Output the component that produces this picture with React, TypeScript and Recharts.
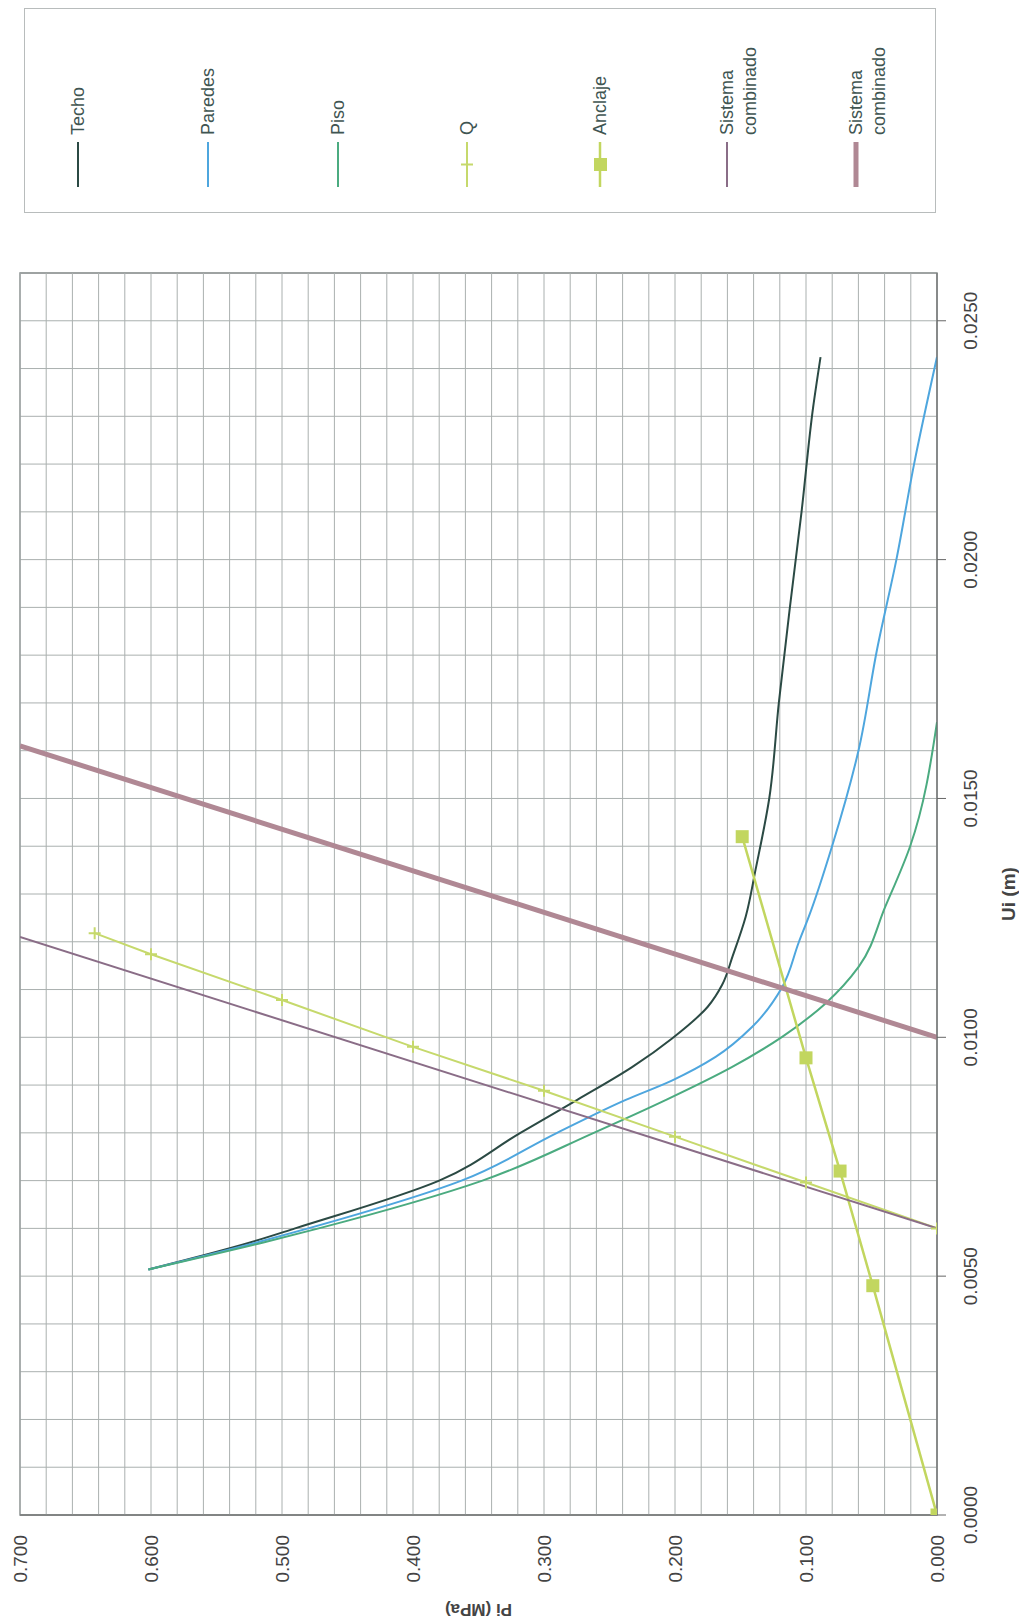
import React from 'react';
import { LineChart, Line, XAxis, YAxis, CartesianGrid, ReferenceArea, ReferenceLine } from 'recharts';

// Ui (m) on the x axis, Pi (MPa) on the y axis; the whole chart is turned 90° afterwards
const uiTicks = [0, 0.005, 0.01, 0.015, 0.02, 0.025];
const piTicks = [0, 0.1, 0.2, 0.3, 0.4, 0.5, 0.6, 0.7];
const uiGrid = Array.from({ length: 27 }, (_, i) => +(i * 0.001).toFixed(3));
const piGrid = Array.from({ length: 36 }, (_, i) => +(i * 0.02).toFixed(2));

const techo = [
  { ui: 0.00514, pi: 0.602 },
  { ui: 0.0057, pi: 0.525 },
  { ui: 0.006, pi: 0.49 },
  { ui: 0.007, pi: 0.38 },
  { ui: 0.008, pi: 0.318 },
  { ui: 0.0087, pi: 0.274 },
  { ui: 0.00938, pi: 0.2325 },
  { ui: 0.00998, pi: 0.202 },
  { ui: 0.01064, pi: 0.175 },
  { ui: 0.0111, pi: 0.164 },
  { ui: 0.0117, pi: 0.156 },
  { ui: 0.01253, pi: 0.146 },
  { ui: 0.01351, pi: 0.1385 },
  { ui: 0.01501, pi: 0.128 },
  { ui: 0.01701, pi: 0.1207 },
  { ui: 0.019, pi: 0.1123 },
  { ui: 0.021, pi: 0.1034 },
  { ui: 0.0232, pi: 0.0945 },
  { ui: 0.02424, pi: 0.0889 },
];

const paredes = [
  { ui: 0.00514, pi: 0.602 },
  { ui: 0.0057, pi: 0.52 },
  { ui: 0.006, pi: 0.48 },
  { ui: 0.007, pi: 0.363 },
  { ui: 0.008, pi: 0.29 },
  { ui: 0.00869, pi: 0.2376 },
  { ui: 0.0091, pi: 0.202 },
  { ui: 0.00959, pi: 0.169 },
  { ui: 0.01022, pi: 0.141 },
  { ui: 0.01106, pi: 0.118 },
  { ui: 0.01199, pi: 0.1055 },
  { ui: 0.01253, pi: 0.0978 },
  { ui: 0.014, pi: 0.0801 },
  { ui: 0.01603, pi: 0.0597 },
  { ui: 0.01813, pi: 0.0457 },
  { ui: 0.02, pi: 0.031 },
  { ui: 0.022, pi: 0.0175 },
  { ui: 0.02424, pi: 0 },
];

const piso = [
  { ui: 0.00514, pi: 0.602 },
  { ui: 0.0057, pi: 0.515 },
  { ui: 0.006, pi: 0.472 },
  { ui: 0.007, pi: 0.347 },
  { ui: 0.008, pi: 0.262 },
  { ui: 0.0087, pi: 0.206 },
  { ui: 0.00938, pi: 0.1563 },
  { ui: 0.01001, pi: 0.1182 },
  { ui: 0.01071, pi: 0.0851 },
  { ui: 0.01148, pi: 0.0597 },
  { ui: 0.01274, pi: 0.0394 },
  { ui: 0.014, pi: 0.0205 },
  { ui: 0.0166, pi: 0 },
];

const qLine = [
  { ui: 0.006, pi: 0 },
  { ui: 0.00696, pi: 0.1 },
  { ui: 0.00792, pi: 0.2 },
  { ui: 0.00888, pi: 0.3 },
  { ui: 0.0098, pi: 0.4 },
  { ui: 0.01078, pi: 0.5 },
  { ui: 0.01174, pi: 0.6 },
  { ui: 0.01218, pi: 0.643 },
];

const anclaje = [
  { ui: 0, pi: 0 },
  { ui: 0.0048, pi: 0.049 },
  { ui: 0.0072, pi: 0.074 },
  { ui: 0.00957, pi: 0.1 },
  { ui: 0.0142, pi: 0.1487 },
];

const sistema1 = [
  { ui: 0.006, pi: 0 },
  { ui: 0.0121, pi: 0.7 },
];

const sistema2 = [
  { ui: 0.01, pi: 0 },
  { ui: 0.0161, pi: 0.7 },
];

const legendNames = ['Techo', 'Paredes', 'Piso', 'Q', 'Anclaje', 'Sistema combinado', 'Sistema combinado'];
const colors = ['#2b4a44', '#4ea6de', '#4bab80', '#c6d96c', '#c2d65f', '#8a6d87', '#b08894'];
const widths = [2, 2, 2, 2, 2.5, 2, 5];

const FONT = '"Liberation Sans", Arial, sans-serif';
const GRID = '#aab0af';
const W = 1624;
const H = 1019;

const PlusDot = (props: any) => {
  const { cx, cy } = props;
  if (cx == null || cy == null) return null;
  return (
    <path d={`M${cx - 6},${cy}h12M${cx},${cy - 6}v12`} stroke={colors[3]} strokeWidth={2} fill="none" />
  );
};

const SquareDot = (props: any) => {
  const { cx, cy } = props;
  if (cx == null || cy == null) return null;
  return <rect x={cx - 6.5} y={cy - 6.5} width={13} height={13} fill={colors[4]} />;
};

const legendY = [53, 183, 313, 442, 575, 702, 831];

const LegendBox = () => (
  <div
    style={{
      position: 'absolute',
      left: 1411,
      top: 24,
      width: 203,
      height: 910,
      border: '1px solid #b8bcbc',
      background: '#fff',
      fontFamily: FONT,
      fontSize: 18,
      color: '#3f5552',
    }}
  >
    {legendNames.map((name, i) => {
      const y = legendY[i];
      const lines = name.split(' ');
      return (
        <React.Fragment key={i}>
          <svg style={{ position: 'absolute', left: 25, top: y - 8 }} width={46} height={16}>
            <line x1={0} y1={8} x2={45} y2={8} stroke={colors[i]} strokeWidth={widths[i]} />
            {i === 3 && <path d="M16.5,8h12M22.5,2v12" stroke={colors[3]} strokeWidth={2} />}
            {i === 4 && <rect x={16} y={2} width={13} height={13} fill={colors[4]} />}
          </svg>
          <div style={{ position: 'absolute', left: 77, top: y - 11.5, lineHeight: '23px', whiteSpace: 'nowrap' }}>
            {lines.map((l, k) => (
              <div key={k}>{l}</div>
            ))}
          </div>
        </React.Fragment>
      );
    })}
  </div>
);

export default function App() {
  return (
    <div style={{ position: 'absolute', left: 0, top: 0, width: 1019, height: 1624, background: '#fff', overflow: 'hidden' }}>
      <div
        style={{
          position: 'absolute',
          left: 0,
          top: 0,
          width: W,
          height: H,
          transformOrigin: '0 0',
          transform: `translate(0px, ${W}px) rotate(-90deg)`,
          fontFamily: FONT,
        }}
      >
        <LineChart width={W} height={H} margin={{ top: 20, right: 273, bottom: 0, left: 0 }} style={{ fontFamily: FONT }}>
          <CartesianGrid stroke={GRID} horizontal={false} verticalValues={uiGrid} />
          {piGrid.map((v) => (
            <ReferenceLine key={v} y={v} stroke={GRID} strokeWidth={1} />
          ))}
          <ReferenceArea x1={0} x2={0.026} y1={0} y2={0.7} fill="none" stroke="#8c9191" strokeWidth={1.5} ifOverflow="visible" />
          <XAxis
            type="number"
            dataKey="ui"
            domain={[0, 0.026]}
            ticks={uiTicks}
            interval={0}
            allowDataOverflow
            height={82}
            tickSize={9}
            tickMargin={18}
            stroke="#666"
            tickFormatter={(v: number) => v.toFixed(4)}
            tick={{ fontSize: 19, fill: '#444' }}
            label={{
              value: 'Ui (m)',
              position: 'insideBottom',
              offset: 4,
              style: { fontSize: 19, fontWeight: 'bold', fill: '#444' },
            }}
          />
          <YAxis
            type="number"
            dataKey="pi"
            domain={[0, 0.7]}
            ticks={piTicks}
            interval={0}
            allowDataOverflow
            width={109}
            tickSize={0}
            tickMargin={20}
            stroke="#666"
            tickFormatter={(v: number) => v.toFixed(3)}
            tick={{ fontSize: 19, fill: '#444' }}
            label={{
              value: 'Pi (MPa)',
              angle: -90,
              position: 'insideLeft',
              offset: 14,
              style: { textAnchor: 'middle', fontSize: 17, fontWeight: 'bold', fill: '#444' },
            }}
          />
          <Line data={techo} dataKey="pi" type="monotone" stroke={colors[0]} strokeWidth={widths[0]} dot={false} isAnimationActive={false} />
          <Line data={paredes} dataKey="pi" type="monotone" stroke={colors[1]} strokeWidth={widths[1]} dot={false} isAnimationActive={false} />
          <Line data={piso} dataKey="pi" type="monotone" stroke={colors[2]} strokeWidth={widths[2]} dot={false} isAnimationActive={false} />
          <Line data={qLine} dataKey="pi" type="linear" stroke={colors[3]} strokeWidth={widths[3]} dot={<PlusDot />} isAnimationActive={false} />
          <Line data={anclaje} dataKey="pi" type="linear" stroke={colors[4]} strokeWidth={widths[4]} dot={<SquareDot />} isAnimationActive={false} />
          <Line data={sistema1} dataKey="pi" type="linear" stroke={colors[5]} strokeWidth={widths[5]} dot={false} isAnimationActive={false} />
          <Line data={sistema2} dataKey="pi" type="linear" stroke={colors[6]} strokeWidth={widths[6]} dot={false} isAnimationActive={false} />
        </LineChart>
        <LegendBox />
      </div>
    </div>
  );
}
